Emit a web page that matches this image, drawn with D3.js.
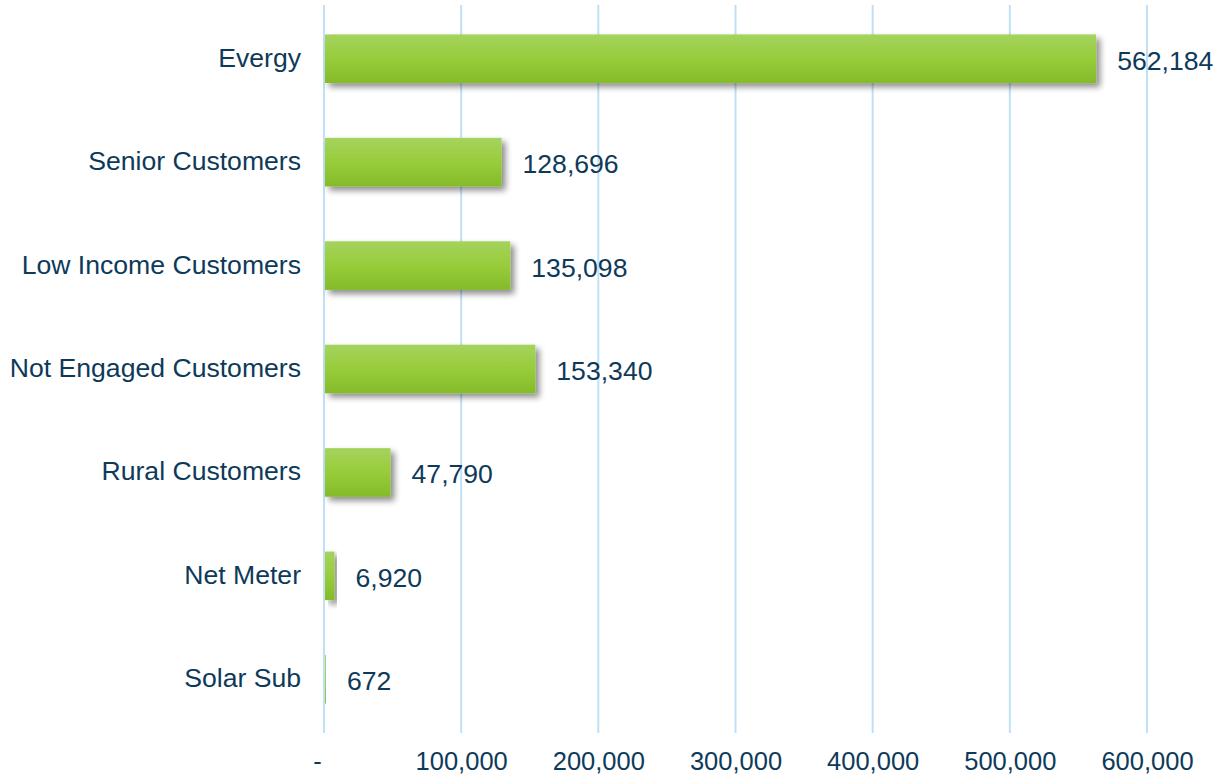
<!DOCTYPE html>
<html>
<head>
<meta charset="utf-8">
<script src="https://cdn.jsdelivr.net/npm/d3@7"></script>
<style>
  body { margin: 0; background: #fff; }
  svg { font-family: "Liberation Sans", Arial, sans-serif; }
</style>
</head>
<body>
<svg id="chart" width="1216" height="778"></svg>
<script>
var categories = ['Evergy', 'Senior Customers', 'Low Income Customers', 'Not Engaged Customers', 'Rural Customers', 'Net Meter', 'Solar Sub'];
var values = [562184, 128696, 135098, 153340, 47790, 6920, 672];
var tickValues = [0, 100000, 200000, 300000, 400000, 500000, 600000];

var svg = d3.select('#chart');
var margin = { top: 7, right: 69, bottom: 47, left: 324 };
var width = 1216 - margin.left - margin.right;
var height = 778 - margin.top - margin.bottom;

var defs = svg.append('defs');
var grad = defs.append('linearGradient')
  .attr('id', 'barGrad')
  .attr('x1', 0).attr('y1', 0).attr('x2', 0).attr('y2', 1);
grad.append('stop').attr('offset', '0%').attr('stop-color', '#a5d35e');
grad.append('stop').attr('offset', '50%').attr('stop-color', '#98cc3a');
grad.append('stop').attr('offset', '100%').attr('stop-color', '#84bb2a');

var shadow = defs.append('filter')
  .attr('id', 'shadow')
  .attr('x', '-10%').attr('y', '-20%').attr('width', '130%').attr('height', '160%');
shadow.append('feGaussianBlur').attr('in', 'SourceAlpha').attr('stdDeviation', 3);
shadow.append('feOffset').attr('dx', 4).attr('dy', 4).attr('result', 'off');
shadow.append('feComponentTransfer').append('feFuncA').attr('type', 'linear').attr('slope', 0.45);
var merge = shadow.append('feMerge');
merge.append('feMergeNode');
merge.append('feMergeNode').attr('in', 'SourceGraphic');

var g = svg.append('g')
  .attr('transform', 'translate(' + margin.left + ',' + margin.top + ')');

var x = d3.scaleLinear()
  .domain([0, 600000])
  .range([0, 823]);

var y = d3.scaleBand()
  .domain(categories)
  .range([0, height])
  .paddingInner(0.53)
  .paddingOuter(0.265);

var textColor = '#0e3a5a';

// gridlines
g.selectAll('line.grid')
  .data(tickValues)
  .enter().append('line')
  .attr('class', 'grid')
  .attr('x1', function(d) { return x(d); })
  .attr('x2', function(d) { return x(d); })
  .attr('y1', -2)
  .attr('y2', height + 2)
  .attr('stroke', '#bfe0f7')
  .attr('stroke-width', 2);

// bars
g.selectAll('rect.bar')
  .data(values)
  .enter().append('rect')
  .attr('class', 'bar')
  .attr('x', x(0) + 1)
  .attr('y', function(d, i) { return y(categories[i]); })
  .attr('width', function(d) { return Math.max(0, x(d) - x(0)); })
  .attr('height', y.bandwidth())
  .attr('fill', 'url(#barGrad)')
  .attr('filter', 'url(#shadow)');

// value labels
g.selectAll('text.value')
  .data(values)
  .enter().append('text')
  .attr('class', 'value')
  .attr('x', function(d) { return x(d) + 22; })
  .attr('y', function(d, i) { return y(categories[i]) + y.bandwidth() / 2 + 4; })
  .attr('dominant-baseline', 'middle')
  .attr('font-size', 26.6)
  .attr('fill', textColor)
  .text(function(d) { return d3.format(',')(d); });

// category labels
g.selectAll('text.cat')
  .data(categories)
  .enter().append('text')
  .attr('class', 'cat')
  .attr('x', -23)
  .attr('y', function(d) { return y(d) + y.bandwidth() / 2 + 1; })
  .attr('text-anchor', 'end')
  .attr('dominant-baseline', 'middle')
  .attr('font-size', 26.6)
  .attr('fill', textColor)
  .text(function(d) { return d; });

// x tick labels
var xAxis = d3.axisBottom(x)
  .tickValues(tickValues)
  .tickSize(0)
  .tickPadding(0)
  .tickFormat(function(d) { return d === 0 ? '-' : d3.format(',')(d); });

var ax = g.append('g')
  .attr('transform', 'translate(0,' + (height + 20) + ')')
  .call(xAxis);
ax.select('.domain').remove();
ax.selectAll('text')
  .attr('font-size', 25.5)
  .attr('font-family', '"Liberation Sans", Arial, sans-serif')
  .attr('fill', textColor)
  .attr('dy', '0.75em');
ax.selectAll('.tick').filter(function(d) { return d === 0; })
  .select('text').attr('dx', -7);
</script>
</body>
</html>
